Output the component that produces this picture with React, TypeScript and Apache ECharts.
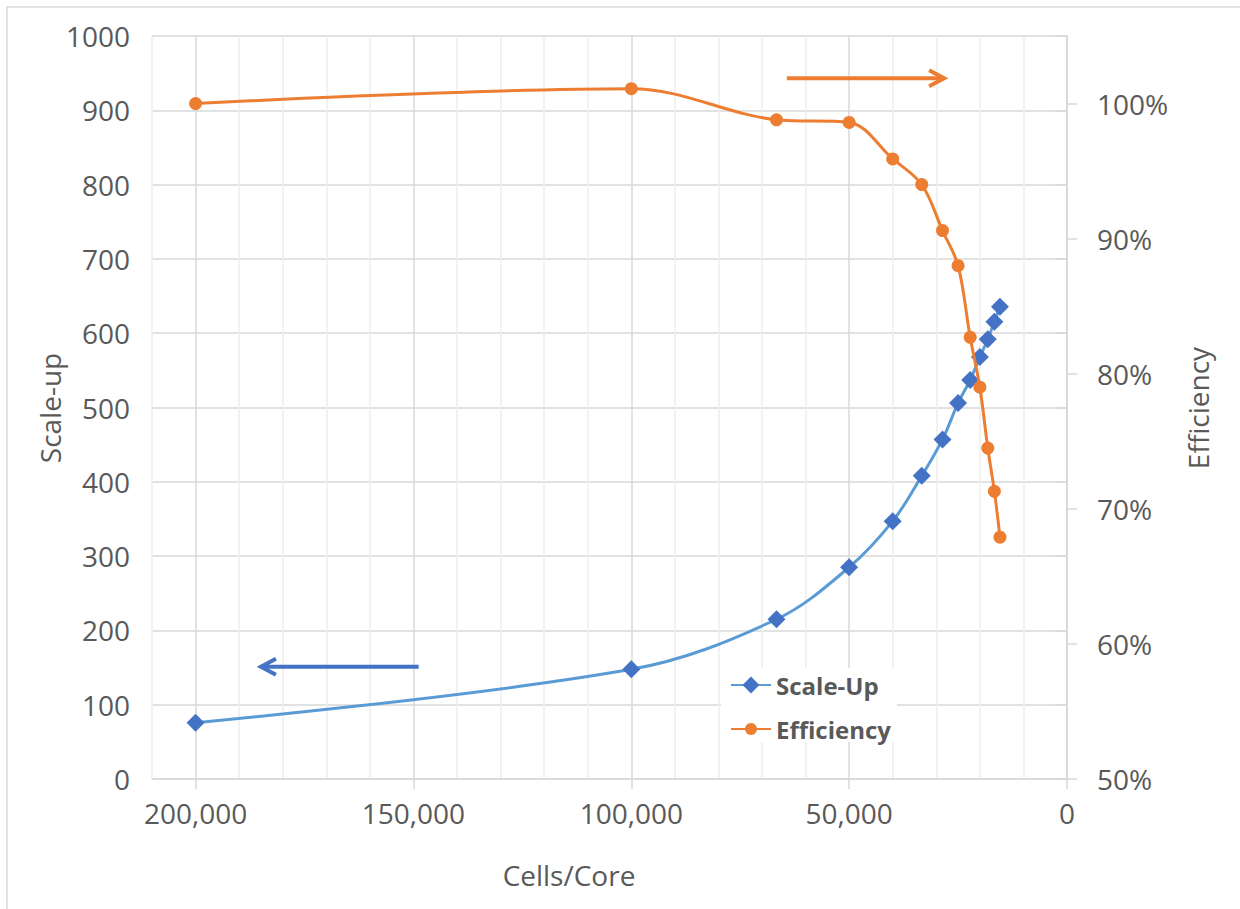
import React, { useEffect, useRef } from 'react';
import * as echarts from 'echarts';

// ---- data ----
const cellsPerCore = [200000, 100000, 66667, 50000, 40000, 33333, 28571, 25000, 22222, 20000, 18182, 16667, 15385];
const scaleUp = [75.8, 147.6, 215, 285, 347, 408, 457, 506, 537, 568, 592, 615.5, 635.7];
const efficiency = [100.0, 101.1, 98.8, 98.6, 95.9, 94.0, 90.6, 88.0, 82.7, 79.0, 74.5, 71.3, 67.9];

// ---- axis ticks / labels ----
const xMajorTicks = [0, 50000, 100000, 150000, 200000];
const effTicks = [50, 60, 70, 80, 90, 100];

// ---- annotation arrows (data coordinates: cells/core, scale-up) ----
const orangeArrow = { from: [64300, 943], to: [28200, 943] };
const blueArrow = { from: [148800, 151], to: [185000, 151] };

const FONT = '"Open Sans", "Noto Sans", sans-serif';
const TEXT = '#595959';
const GRID = '#d9d9d9';
const MINOR = '#eeeeee';
const BLUE_LINE = '#5B9BD5';
const BLUE_MARK = '#4472C4';
const ORANGE = '#ED7D31';

export default function App() {
  const ref = useRef<HTMLDivElement>(null);

  useEffect(() => {
    if (!ref.current) return;
    const chart = echarts.init(ref.current, undefined, { renderer: 'svg' });

    const fmt = (v: number) => v.toLocaleString('en-US');
    const legendText = { fontFamily: FONT, fontSize: 24, fontWeight: 'bold', color: TEXT };

    const option: any = {
      animation: false,
      backgroundColor: '#ffffff',
      textStyle: { fontFamily: FONT, color: TEXT },
      grid: { left: 152, right: 173, top: 36, bottom: 130, containLabel: false },
      legend: [
        {
          orient: 'vertical',
          left: 722,
          top: 669,
          padding: [4, 8, 4, 8],
          itemWidth: 40,
          itemHeight: 21,
          textStyle: legendText,
          data: ['Scale-Up'],
        },
        {
          orient: 'vertical',
          left: 722,
          top: 713,
          padding: [4, 8, 4, 8],
          itemWidth: 40,
          itemHeight: 15,
          textStyle: legendText,
          data: ['Efficiency'],
        },
      ],
      xAxis: [
        {
          type: 'value',
          inverse: true,
          min: 0,
          max: 210000,
          interval: 10000,
          axisLine: { show: true, lineStyle: { color: GRID, width: 1.5 } },
          axisTick: { show: false },
          axisLabel: { show: false },
          splitLine: {
            show: true,
            lineStyle: { color: [GRID, MINOR, MINOR, MINOR, MINOR], width: 1.5 },
          },
        },
        {
          type: 'value',
          inverse: true,
          position: 'bottom',
          min: 0,
          max: 210000,
          interval: 50000,
          axisLine: { show: false },
          axisTick: {
            show: true,
            length: 10,
            customValues: xMajorTicks,
            lineStyle: { color: GRID, width: 1.5 },
          },
          axisLabel: {
            show: true,
            customValues: xMajorTicks,
            formatter: (v: number) => fmt(v),
            fontFamily: FONT,
            fontSize: 28,
            color: TEXT,
            margin: 20,
          },
          splitLine: { show: false },
        },
      ],
      yAxis: [
        {
          type: 'value',
          min: 0,
          max: 1000,
          interval: 100,
          axisLine: { show: true, lineStyle: { color: GRID, width: 1.5 } },
          axisTick: { show: true, length: 12, lineStyle: { color: GRID, width: 1.5 } },
          axisLabel: {
            formatter: (v: number) => String(v),
            fontFamily: FONT,
            fontSize: 28,
            color: TEXT,
            margin: 22,
          },
          splitLine: { show: true, lineStyle: { color: GRID, width: 1.5 } },
        },
        {
          type: 'value',
          position: 'right',
          min: 50,
          max: 105,
          interval: 10,
          axisLine: { show: true, lineStyle: { color: GRID, width: 1.5 } },
          axisTick: {
            show: true,
            length: 10,
            customValues: effTicks,
            lineStyle: { color: GRID, width: 1.5 },
          },
          axisLabel: {
            customValues: effTicks,
            formatter: (v: number) => `${v}%`,
            fontFamily: FONT,
            fontSize: 28,
            color: TEXT,
            margin: 30,
          },
          splitLine: { show: false },
        },
      ],
      series: [
        {
          name: 'Scale-Up',
          type: 'line',
          xAxisIndex: 0,
          yAxisIndex: 0,
          smooth: 0.35,
          symbol: 'diamond',
          symbolSize: 18,
          lineStyle: { color: BLUE_LINE, width: 3 },
          itemStyle: { color: BLUE_MARK },
          data: cellsPerCore.map((c, i) => [c, scaleUp[i]]),
          z: 3,
        },
        {
          name: 'Efficiency',
          type: 'line',
          xAxisIndex: 0,
          yAxisIndex: 1,
          smooth: 0.35,
          symbol: 'circle',
          symbolSize: 13,
          lineStyle: { color: ORANGE, width: 3 },
          itemStyle: { color: ORANGE },
          data: cellsPerCore.map((c, i) => [c, efficiency[i]]),
          z: 4,
        },
      ],
    };

    chart.setOption(option);

    const px = (p: number[]) => chart.convertToPixel({ xAxisIndex: 0, yAxisIndex: 0 }, p) as number[];
    const arrow = (a: { from: number[]; to: number[] }, color: string) => {
      const s = px(a.from);
      const t = px(a.to);
      const dir = Math.sign(t[0] - s[0]);
      return [
        {
          type: 'polyline',
          shape: { points: [s, t] },
          style: { stroke: color, lineWidth: 4, fill: null },
          z: 10,
        },
        {
          type: 'polyline',
          shape: {
            points: [
              [t[0] - dir * 15, t[1] - 8],
              [t[0], t[1]],
              [t[0] - dir * 15, t[1] + 8],
            ],
          },
          style: { stroke: color, lineWidth: 4, fill: null, lineJoin: 'miter' },
          z: 10,
        },
      ];
    };

    chart.setOption({
      graphic: [
        {
          type: 'rect',
          shape: { x: 7, y: 7, width: 1400, height: 1100 },
          style: { fill: null, stroke: GRID, lineWidth: 1.5 },
          z: -1,
          silent: true,
        },
        {
          type: 'rect',
          shape: { x: 721, y: 668, width: 176, height: 74 },
          style: { fill: '#ffffff', stroke: null },
          z: 1,
          silent: true,
        },
        {
          type: 'text',
          x: 50,
          y: 408,
          rotation: Math.PI / 2,
          style: {
            text: 'Scale-up',
            fontFamily: FONT,
            fontSize: 28,
            fill: TEXT,
            textAlign: 'center',
            textVerticalAlign: 'middle',
          },
        },
        {
          type: 'text',
          x: 1198,
          y: 408,
          rotation: Math.PI / 2,
          style: {
            text: 'Efficiency',
            fontFamily: FONT,
            fontSize: 28,
            fill: TEXT,
            textAlign: 'center',
            textVerticalAlign: 'middle',
          },
        },
        {
          type: 'text',
          x: 569,
          y: 875,
          style: {
            text: 'Cells/Core',
            fontFamily: FONT,
            fontSize: 28,
            fill: TEXT,
            textAlign: 'center',
            textVerticalAlign: 'middle',
          },
        },
        ...arrow(orangeArrow, ORANGE),
        ...arrow(blueArrow, BLUE_MARK),
      ],
    });

    return () => chart.dispose();
  }, []);

  return (
    <div
      ref={ref}
      style={{ position: 'fixed', left: 0, top: 0, width: 1240, height: 909, background: '#fff' }}
    />
  );
}
